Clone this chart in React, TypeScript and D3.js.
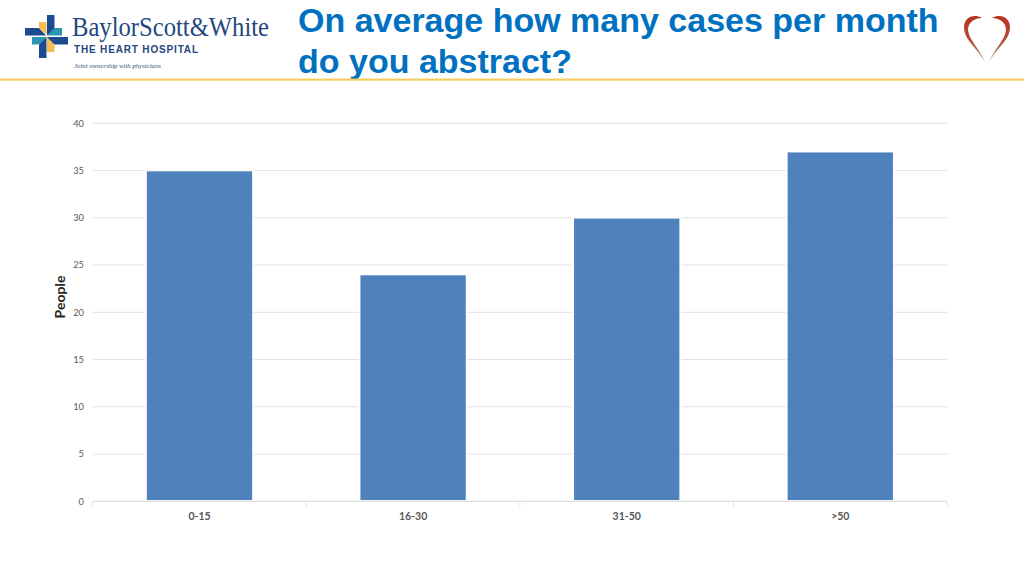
import React from "react";
import * as d3 from "d3";

const categories = ["0-15", "16-30", "31-50", ">50"];
const people = [35, 24, 30, 37];
const yTicks = [0, 5, 10, 15, 20, 25, 30, 35, 40];
const titleLines = ["On average how many cases per month", "do you abstract?"];

const W = 1024, H = 576;
const x = d3.scaleBand<string>().domain(categories).range([92.7, 947.1]).paddingInner(0.507).paddingOuter(0.2535);
const y = d3.scaleLinear().domain([0, 40]).range([501.3, 123.3]);
const sans = "Lato, Carlito, 'Open Sans', sans-serif";
const band = (x.range()[1] - x.range()[0]) / categories.length;

export default function App() {
  return (
    <svg width={W} height={H} viewBox={`0 0 ${W} ${H}`} style={{ position: "fixed", left: 0, top: 0, background: "#fff" }}>
      <defs>
        <linearGradient id="heart" x1="0" y1="0" x2="0" y2="1">
          <stop offset="0" stopColor="#b8321f" />
          <stop offset="0.55" stopColor="#b5503c" />
          <stop offset="1" stopColor="#a89a90" />
        </linearGradient>
      </defs>
      {/* Logo */}
      <g>
        <polygon points="47,15 54.5,15 54.5,32 47,35" fill="#1d4b8f" />
        <polygon points="25,28 39,28 46,35.5 25,35.5" fill="#1d4b8f" />
        <polygon points="39,22 46.5,22 46.5,35 39,28" fill="#f6bd50" />
        <polygon points="54.5,28 62,28 62,35.5 47,35.5" fill="#2a96b4" />
        <rect x={47} y={37} width={21} height={7.5} fill="#1d4b8f" />
        <polygon points="32,37 46.5,37 39,44.5 32,44.5" fill="#2a96b4" />
        <polygon points="46.5,37 46.5,58 39,58 39,44.5" fill="#1d4b8f" />
        <polygon points="47,37 54.5,44.5 54.5,52 47,52" fill="#f6bd50" />
        <text x={72} y={36} fontFamily="'Liberation Serif', serif" fontSize={28} textLength={197} lengthAdjust="spacingAndGlyphs" fill="#23477f">BaylorScott&amp;White</text>
        <text x={74} y={53} fontFamily="'Liberation Sans', sans-serif" fontWeight="bold" fontSize={10} textLength={124} lengthAdjust="spacing" fill="#23477f">THE HEART HOSPITAL</text>
        <text x={74} y={67.5} fontFamily="'Liberation Serif', serif" fontStyle="italic" fontSize={7} textLength={87} lengthAdjust="spacingAndGlyphs" fill="#33507f">Joint ownership with physicians</text>
      </g>
      {/* Title */}
      {titleLines.map((t, i) => (
        <text key={t} x={298} y={32 + i * 41} fontFamily="'Liberation Sans', Arial, sans-serif" fontWeight="bold" fontSize={34} fill="#0070c0">{t}</text>
      ))}
      {/* Heart */}
      <g fill="url(#heart)">
        <path d="M985 62 C975 45 964 40 964 27 C964 18 973 13 982 18 C975 18 968 22 968 30 C969 40 979 48 985 62 Z" />
        <path d="M989 62 C999 45 1010 40 1010 27 C1010 18 1001 13 992 18 C999 18 1006 22 1006 30 C1005 40 995 48 989 62 Z" />
      </g>
      <rect x={0} y={78.5} width={W} height={2.2} fill="#f8cb62" />
      {/* Grid */}
      {yTicks.filter((t) => t > 0).map((t) => (
        <line key={t} x1={93} x2={947.1} y1={y(t)} y2={y(t)} stroke="#e2e2e2" strokeWidth={1} />
      ))}
      {/* Y tick labels */}
      {yTicks.map((t) => (
        <text key={t} x={84} y={y(t) + 3.3} textAnchor="end" fontFamily={sans} fontSize={9.3} fill="#595959">{t}</text>
      ))}
      {/* Bars */}
      {categories.map((c, i) => (
        <rect key={c} x={x(c)} y={y(people[i]) + 0.8} width={x.bandwidth()} height={y(0) - y(people[i]) - 1.8} fill="#4f81bd" />
      ))}
      {categories.map((c, i) => (
        <rect key={c + "-halo"} x={x(c)! - 1.5} y={y(people[i]) - 0.5} width={x.bandwidth() + 3} height={y(0) - y(people[i])} fill="none" stroke="#fff" strokeWidth={1.5} opacity={0.9} />
      ))}
      {/* Axis */}
      <line x1={93} x2={947.1} y1={y(0)} y2={y(0)} stroke="#d9d9d9" />
      {d3.range(categories.length + 1).map((i) => (
        <line key={i} x1={92.7 + i * band} x2={92.7 + i * band} y1={y(0)} y2={y(0) + 5} stroke="#e2e2e2" />
      ))}
      {categories.map((c) => (
        <text key={c} x={x(c)! + x.bandwidth() / 2} y={520} textAnchor="middle" fontFamily={sans} fontWeight="bold" fontSize={10.5} fill="#595959">{c}</text>
      ))}
      <text transform="translate(65,297) rotate(-90)" textAnchor="middle" fontFamily={sans} fontWeight="bold" fontSize={14} fill="#262626">People</text>
    </svg>
  );
}
